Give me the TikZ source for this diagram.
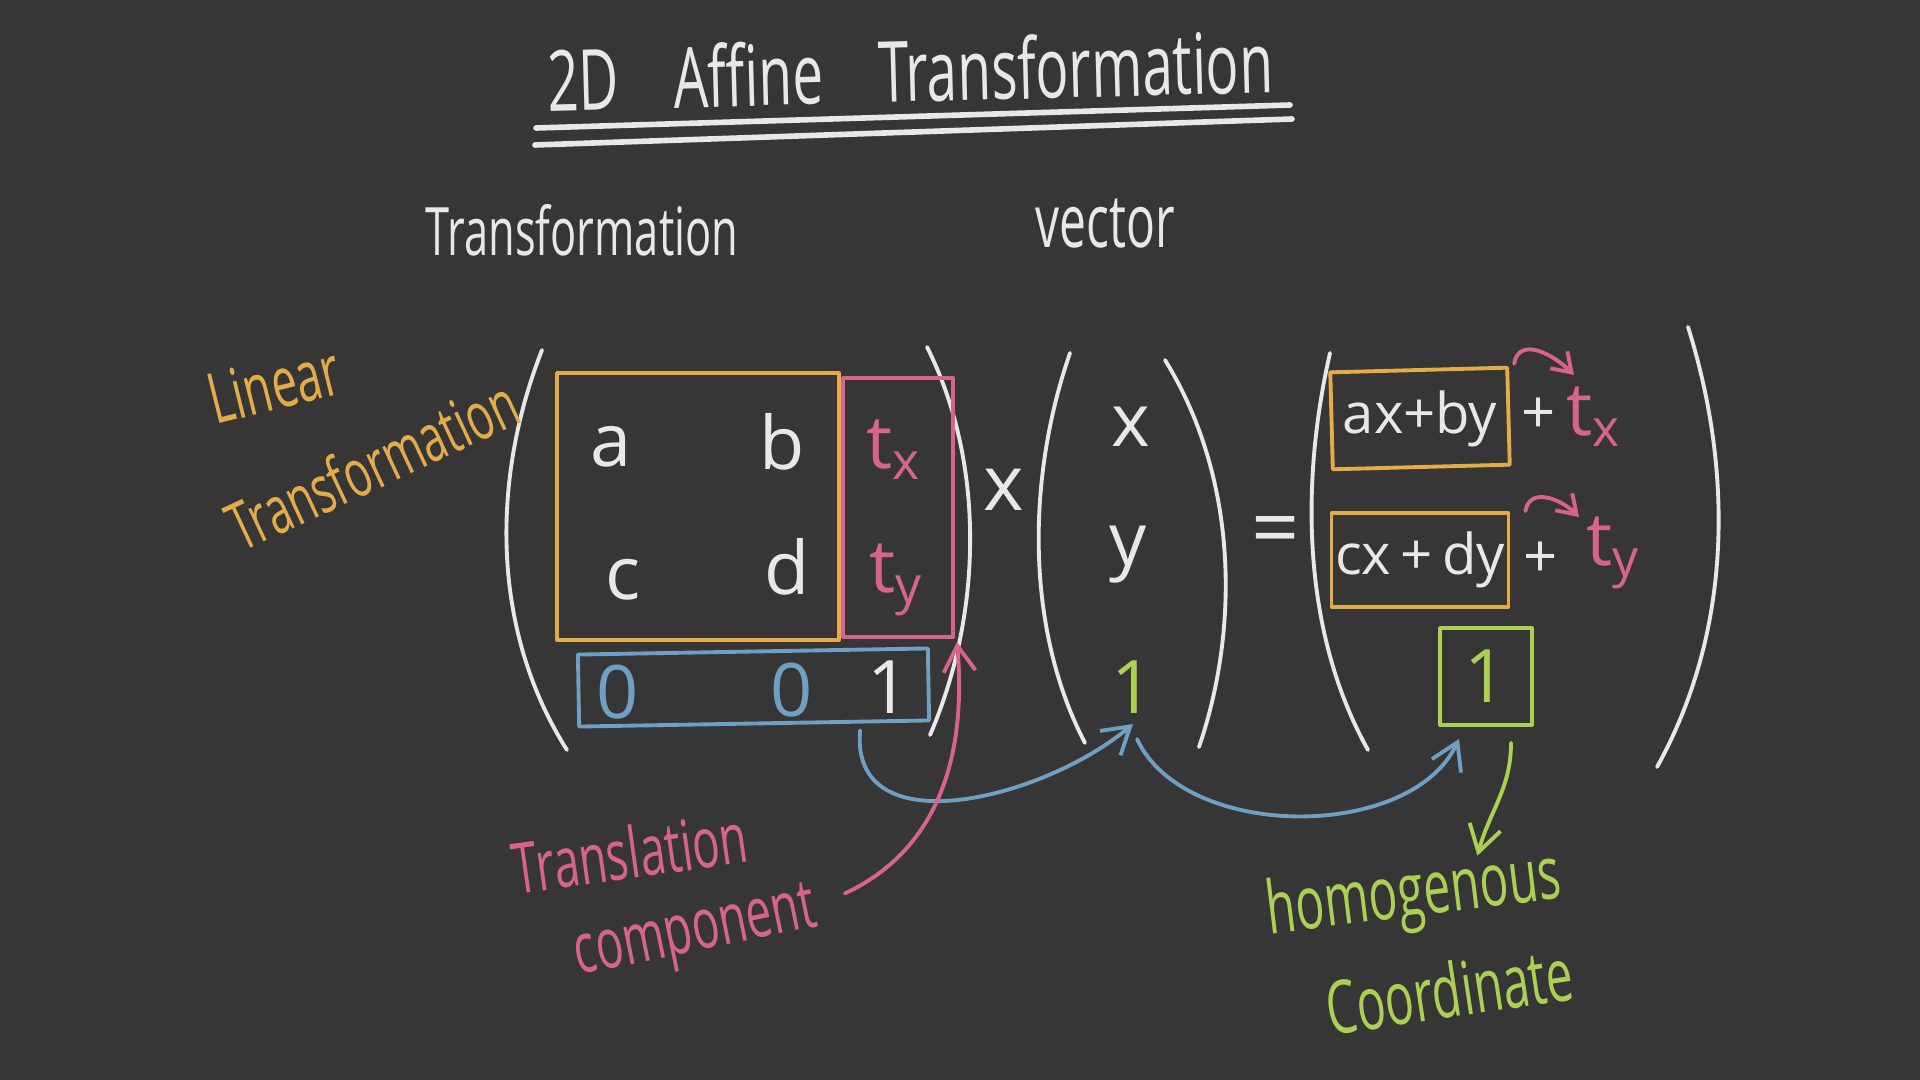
\documentclass[tikz,border=0pt]{standalone}
\usepackage{fontspec}
\setmainfont{Open Sans}
\usepackage{xcolor}
\usetikzlibrary{positioning,arrows.meta}

\definecolor{board}{RGB}{54,54,54}
\definecolor{chalkwhite}{RGB}{232,232,232}
\definecolor{chalkorange}{RGB}{228,172,72}
\definecolor{chalkpink}{RGB}{216,100,140}
\definecolor{chalkblue}{RGB}{110,160,196}
\definecolor{chalkgreen}{RGB}{172,208,84}

\newcommand{\hand}[1]{\scalebox{0.65}[1]{#1}}
\newcommand{\chalkfont}[1]{\fontsize{#1}{#1}\selectfont}

\begin{document}
\begin{tikzpicture}[
    chalk/.style={line width=1.1pt, line cap=round, line join=round},
    tip/.style={-{Straight Barb[length=2.6mm,width=3.2mm,line width=1.1pt]}},
    smalltip/.style={-{Straight Barb[length=1.8mm,width=2.4mm,line width=1.1pt]}},
    say/.style={inner sep=0pt, text=chalkwhite, font=\chalkfont{20}},
    entry/.style={say, font=\chalkfont{21}},
    frame/.style={chalk, draw=#1, inner sep=0pt},
    paren/.style={chalk, draw=chalkwhite}
  ]
  % board
  \fill[board] (0,0) rectangle (19.2,-10.8);
  \useasboundingbox (0,0) rectangle (19.2,-10.8);

  % headings
  \node[say, font=\chalkfont{24}, rotate=1.5] (title) at (9.10,-0.70)
       {\hand{2D\quad Affine\quad Transformation}};
  \draw[chalk, draw=chalkwhite, line width=1.6pt] (5.36,-1.28) -- (12.90,-1.05);
  \draw[chalk, draw=chalkwhite, line width=1.6pt] (5.35,-1.45) -- (12.92,-1.19);
  \node[say, font=\chalkfont{19}] (hmat) at (5.82,-2.30) {\hand{Transformation}};
  \node[say, font=\chalkfont{21}] (hvec) at (11.05,-2.24) {\hand{vector}};

  % transformation matrix
  \draw[paren] (5.42,-3.50) .. controls (4.91,-4.80) and (4.91,-6.30) .. (5.67,-7.50);
  \draw[paren] (9.27,-3.47) .. controls (9.84,-4.60) and (9.84,-6.10) .. (9.30,-7.35);
  \node[frame=chalkorange, minimum width=2.82cm, minimum height=2.67cm] (lin) at (6.98,-5.065) {};
  \node[frame=chalkpink, minimum width=1.10cm, minimum height=2.59cm] (trans) at (8.98,-5.075) {};
  \node[frame=chalkblue, minimum width=3.50cm, minimum height=0.72cm, rotate=1] (row) at (7.535,-6.875) {};
  \node[entry] (a) at (6.11,-4.47) {a};
  \node[entry] (b) at (7.82,-4.42) {b};
  \node[entry] (c) at (6.23,-5.80) {c};
  \node[entry] (d) at (7.87,-5.67) {d};
  \node[entry, text=chalkpink] (tx) at (8.94,-4.50) {t\textsubscript{x}};
  \node[entry, text=chalkpink] (ty) at (8.96,-5.80) {t\textsubscript{y}};
  \node[entry, text=chalkblue] (z1) at (6.18,-6.92) {0};
  \node[entry, text=chalkblue] (z2) at (7.92,-6.90) {0};
  \node[entry, text=chalkwhite] (one) at (8.89,-6.87) {1};
  \node[say, font=\chalkfont{22}] (times) at (10.04,-4.90) {x};

  % vector
  \draw[paren] (10.70,-3.53) .. controls (10.26,-4.80) and (10.26,-6.30) .. (10.85,-7.43);
  \draw[paren] (11.65,-3.60) .. controls (12.39,-4.80) and (12.39,-6.30) .. (11.99,-7.47);
  \node[entry] (vx) at (11.31,-4.27) {x};
  \node[entry] (vy) at (11.28,-5.55) {y};
  \node[entry, text=chalkgreen] (vone) at (11.33,-6.87) {1};
  \node[say, font=\chalkfont{24}] (eq) at (12.76,-5.37) {=};

  % result
  \draw[paren] (13.30,-3.53) .. controls (13.01,-4.80) and (13.01,-6.30) .. (13.68,-7.50);
  \draw[paren] (16.88,-3.27) .. controls (17.33,-4.70) and (17.33,-6.30) .. (16.57,-7.67);
  \node[frame=chalkorange, minimum width=1.77cm, minimum height=0.97cm, rotate=1.5] (rx) at (14.20,-4.185) {};
  \node[frame=chalkorange, minimum width=1.77cm, minimum height=0.94cm] (ry) at (14.20,-5.60) {};
  \node[say, font=\chalkfont{16}] (ax) at (rx.center) {ax+by};
  \node[say, font=\chalkfont{16}] (cx) at (ry.center) {cx\,+\,dy};
  \node[say, font=\chalkfont{17}, right=0.1cm of rx] (plusx) {+};
  \node[say, font=\chalkfont{17}, right=0.12cm of ry] (plusy) {+};
  \node[entry, text=chalkpink] (tx2) at (15.94,-4.17) {t\textsubscript{x}};
  \node[entry, text=chalkpink] (ty2) at (16.13,-5.53) {t\textsubscript{y}};
  \node[frame=chalkgreen, minimum width=0.92cm, minimum height=0.97cm] (hbox) at (14.86,-6.765) {};
  \node[entry, text=chalkgreen] (hone) at (hbox.center) {1};

  % notes
  \node[say, text=chalkorange, font=\chalkfont{20}, rotate=14] (lin1) at (2.74,-3.84) {\hand{Linear}};
  \node[say, text=chalkorange, font=\chalkfont{19}, rotate=25] (lin2) at (3.72,-4.64) {\hand{Transformation}};
  \node[say, text=chalkpink, font=\chalkfont{20}, rotate=8] (tr1) at (6.30,-8.52) {\hand{Translation}};
  \node[say, text=chalkpink, font=\chalkfont{20}, rotate=11.5] (comp) at (6.96,-9.36) {\hand{component}};
  \node[say, text=chalkgreen, font=\chalkfont{21}, rotate=7] (homo) at (14.14,-8.97) {\hand{homogenous}};
  \node[say, text=chalkgreen, font=\chalkfont{21}, rotate=8.5] (coord) at (14.49,-9.90) {\hand{Coordinate}};

  % connectors
  \draw[chalk, tip, draw=chalkblue] ([shift={(-0.71,-0.08)}]row.south east)
        to[out=-95, in=-140, looseness=1.1] ([yshift=-0.1cm]vone.south);
  \draw[chalk, tip, draw=chalkblue] ([shift={(0.04,-0.25)}]vone.south)
        to[out=-65, in=-115, looseness=0.9] ([shift={(-0.27,-0.12)}]hbox.south);
  \draw[chalk, tip, draw=chalkpink] ([shift={(0.28,0.18)}]comp.east)
        to[out=25, in=-85] ([shift={(0.02,-0.03)}]trans.south east);
  \draw[chalk, tip, draw=chalkgreen] ([shift={(0.25,-0.16)}]hbox.south)
        to[out=-90, in=75] ([shift={(0.68,0.04)}]homo.north);
  \draw[chalk, smalltip, draw=chalkpink] ([shift={(0.05,0.02)}]rx.north east)
        to[out=80, in=135, looseness=1.2] ([shift={(-0.20,0.42)}]tx2.center);
  \draw[chalk, smalltip, draw=chalkpink] ([shift={(0.15,0.0)}]ry.north east)
        to[out=80, in=135, looseness=1.2] ([shift={(-0.34,0.36)}]ty2.center);
\end{tikzpicture}
\end{document}
